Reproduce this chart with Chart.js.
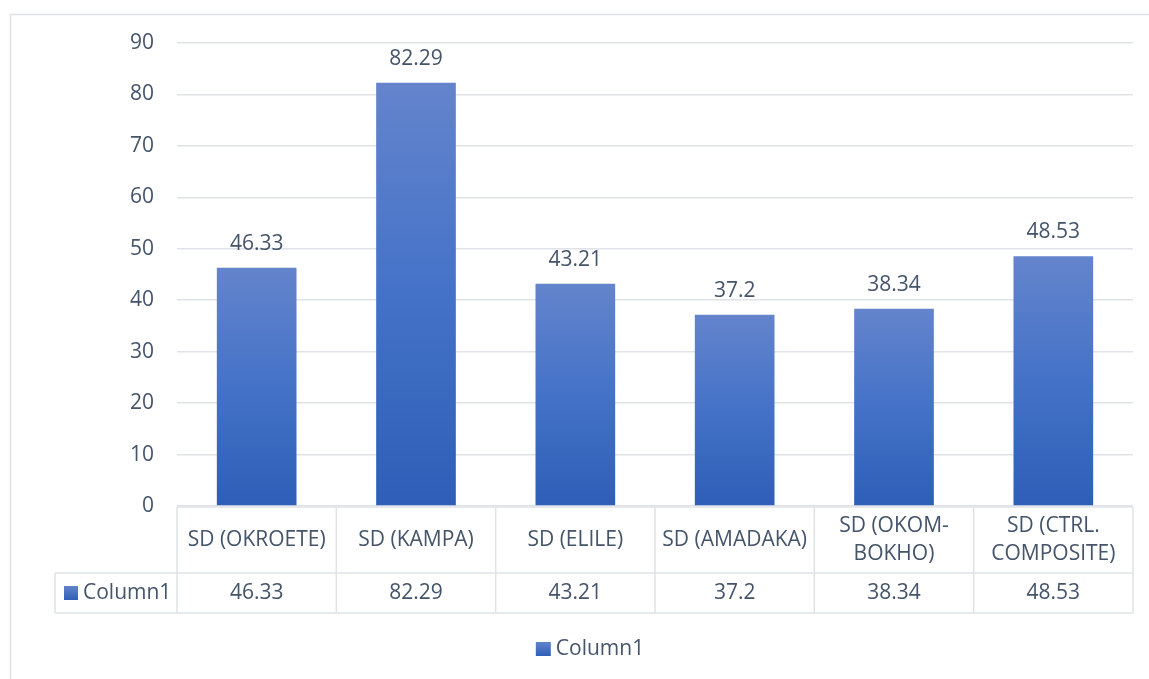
<!DOCTYPE html>
<html>
<head>
<meta charset="utf-8">
<script src="https://cdn.jsdelivr.net/npm/chart.js@4"></script>
<style>
  body { margin: 0; background: #fff; }
  #wrap { width: 1149px; height: 679px; }
</style>
</head>
<body>
<div id="wrap"><canvas id="sdChart" width="1149" height="679"></canvas></div>
<script>
// chart values
const categories = ['SD (OKROETE)', 'SD (KAMPA)', 'SD (ELILE)', 'SD (AMADAKA)', 'SD (OKOM-BOKHO)', 'SD (CTRL. COMPOSITE)'];
const headerLines = [['SD (OKROETE)'], ['SD (KAMPA)'], ['SD (ELILE)'], ['SD (AMADAKA)'], ['SD (OKOM-', 'BOKHO)'], ['SD (CTRL.', 'COMPOSITE)']];
const column1 = [46.33, 82.29, 43.21, 37.2, 38.34, 48.53];
const seriesName = 'Column1';
const yTicks = [0, 10, 20, 30, 40, 50, 60, 70, 80, 90];

const textColor = '#44546a';
const lineColor = '#dfe3e8';
const fontFamily = '"Open Sans", "Noto Sans", sans-serif';
const fontSize = 21;

function keyGradient(ctx, y0, y1) {
    const g = ctx.createLinearGradient(0, y0, 0, y1);
    g.addColorStop(0, '#6383cc');
    g.addColorStop(1, '#2f5fb8');
    return g;
}

// light frame, data labels, data table and legend
const tablePlugin = {
    id: 'tablePlugin',
    beforeDraw(chart) {
        const ctx = chart.ctx;
        ctx.save();
        ctx.strokeStyle = lineColor;
        ctx.lineWidth = 1.5;
        ctx.strokeRect(10.5, 14.5, 1300, 800);
        ctx.restore();
    },
    afterDraw(chart) {
        const ctx = chart.ctx;
        const area = chart.chartArea;
        const x = chart.scales.x;
        const meta = chart.getDatasetMeta(0);
        const n = categories.length;
        const colW = (x.right - x.left) / n;
        const top = area.bottom + 1;
        const headBottom = top + 66;
        const rowBottom = headBottom + 40;
        const legendLeft = area.left - 122;

        ctx.save();
        ctx.font = fontSize + 'px ' + fontFamily;
        ctx.fillStyle = textColor;
        ctx.textAlign = 'center';
        ctx.textBaseline = 'middle';

        // value labels above bars
        meta.data.forEach((bar, i) => {
            ctx.fillText(String(column1[i]), bar.x, bar.y - 24);
        });

        // grid of the table
        ctx.strokeStyle = lineColor;
        ctx.lineWidth = 1.5;
        ctx.beginPath();
        ctx.moveTo(area.left, top); ctx.lineTo(x.right, top);
        ctx.moveTo(legendLeft, headBottom); ctx.lineTo(x.right, headBottom);
        ctx.moveTo(legendLeft, rowBottom); ctx.lineTo(x.right, rowBottom);
        ctx.moveTo(legendLeft, headBottom); ctx.lineTo(legendLeft, rowBottom);
        for (let i = 0; i <= n; i++) {
            const cx = x.left + i * colW;
            ctx.moveTo(cx, top); ctx.lineTo(cx, rowBottom);
        }
        ctx.stroke();

        // header labels and values
        const lh = 28;
        headerLines.forEach((lines, i) => {
            const cx = x.getPixelForValue(i);
            const cy = (top + headBottom) / 2;
            lines.forEach((line, k) => {
                ctx.fillText(line, cx, cy + (k - (lines.length - 1) / 2) * lh);
            });
            ctx.fillText(String(column1[i]), cx, (headBottom + rowBottom) / 2);
        });

        // legend key in the table
        const ry = (headBottom + rowBottom) / 2;
        ctx.fillStyle = keyGradient(ctx, ry - 7, ry + 7);
        ctx.fillRect(legendLeft + 9, ry - 7, 14, 14);
        ctx.fillStyle = textColor;
        ctx.textAlign = 'left';
        ctx.fillText(seriesName, legendLeft + 28, ry);

        // legend below the table
        const ly = rowBottom + 36;
        const tw = ctx.measureText(seriesName).width;
        const itemW = 15 + 5 + tw;
        const lx = (legendLeft + x.right) / 2 - itemW / 2 - 4;
        ctx.fillStyle = keyGradient(ctx, ly - 7, ly + 7);
        ctx.fillRect(lx, ly - 7, 15, 14);
        ctx.fillStyle = textColor;
        ctx.fillText(seriesName, lx + 20, ly);
        ctx.restore();
    }
};

const chartCtx = document.getElementById('sdChart').getContext('2d');
new Chart(chartCtx, {
    type: 'bar',
    data: {
        labels: categories,
        datasets: [{
            label: seriesName,
            data: column1,
            backgroundColor: context => {
                const chart = context.chart;
                if (!chart.chartArea || context.type !== 'data') {
                    return '#4472c4';
                }
                const yScale = chart.scales.y;
                const yTop = yScale.getPixelForValue(context.raw);
                const yBottom = yScale.getPixelForValue(0);
                const g = chart.ctx.createLinearGradient(0, yTop, 0, yBottom);
                g.addColorStop(0, '#6484cc');
                g.addColorStop(0.5, '#4472c8');
                g.addColorStop(1, '#2e5eb7');
                return g;
            },
            barPercentage: 0.5,
            categoryPercentage: 1.0
        }]
    },
    options: {
        responsive: false,
        animation: false,
        layout: {
            padding: { left: 0, right: 16, top: 43, bottom: 51 }
        },
        plugins: {
            tooltip: { enabled: false },
            legend: { display: false }
        },
        scales: {
            x: {
                grid: { display: false },
                border: { display: false },
                ticks: { display: false },
                afterFit: scale => { scale.height = 122; }
            },
            y: {
                min: yTicks[0],
                max: yTicks[yTicks.length - 1],
                afterBuildTicks: scale => {
                    scale.ticks = yTicks.map(v => ({ value: v }));
                },
                afterFit: scale => { scale.width = 177; },
                border: { display: false },
                grid: {
                    color: lineColor,
                    lineWidth: 1.5,
                    drawTicks: false
                },
                ticks: {
                    padding: 23,
                    color: textColor,
                    font: { family: fontFamily, size: fontSize }
                }
            }
        }
    },
    plugins: [tablePlugin]
});
</script>
</body>
</html>
